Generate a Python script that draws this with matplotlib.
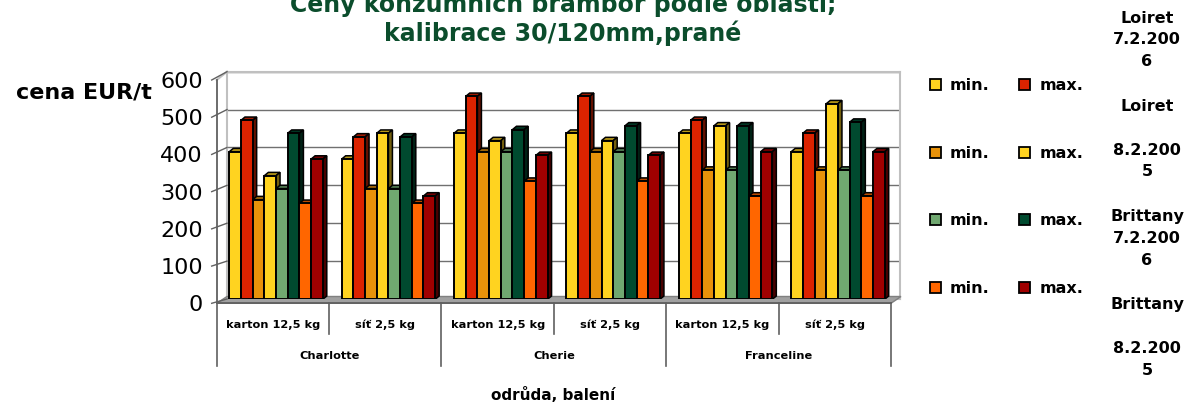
import matplotlib
matplotlib.use("Agg")
import matplotlib.pyplot as plt
from matplotlib.patches import Polygon
from matplotlib.transforms import blended_transform_factory
import numpy as np

# ---------------- data ----------------
title_lines = ["Ceny konzumních brambor podle oblastí;", "kalibrace 30/120mm,prané"]
y_title = "cena EUR/t"
x_title = "odrůda, balení"
varieties = ["Charlotte", "Cherie", "Franceline"]
packages = ["karton 12,5 kg", "síť 2,5 kg"]
yticks = [0, 100, 200, 300, 400, 500, 600]

series_labels = ["min.", "max.", "min.", "max.", "min.", "max.", "min.", "max."]
region_lines = [["Loiret", "7.2.200", "6"],
                ["Loiret", "", "8.2.200", "5"],
                ["Brittany", "7.2.200", "6"],
                ["Brittany", "", "8.2.200", "5"]]

# values per category (Charlotte karton, Charlotte sit, Cherie karton, Cherie sit, Franceline karton, Franceline sit)
loiret06_min = [400, 380, 450, 450, 450, 400]
loiret06_max = [485, 440, 550, 550, 485, 450]
loiret05_min = [270, 300, 400, 400, 350, 350]
loiret05_max = [335, 450, 430, 430, 470, 530]
britt06_min = [300, 300, 400, 400, 350, 350]
britt06_max = [450, 440, 460, 470, 470, 480]
britt05_min = [260, 260, 320, 320, 280, 280]
britt05_max = [380, 280, 390, 390, 400, 400]

series = [loiret06_min, loiret06_max, loiret05_min, loiret05_max,
          britt06_min, britt06_max, britt05_min, britt05_max]
colors = ["#FFD320", "#DC2300", "#E8920A", "#FFD320",
          "#70A870", "#004A2F", "#FF6600", "#A00000"]

# ---------------- figure ----------------
W, H = 1185, 403
fig = plt.figure(figsize=(W / 100, H / 100), dpi=100)
fig.patch.set_facecolor("white")


def fx(px):
    return px / W


def fy(py):
    return 1 - py / H


# back wall
axw = fig.add_axes([fx(227), fy(299), (900 - 227) / W, (299 - 71.7) / H], zorder=0)
axw.set_xlim(0, 1)
axw.set_ylim(0, 600)
axw.set_facecolor("white")
for s in axw.spines.values():
    s.set_color("#C0C0C0")
    s.set_linewidth(1.5)
axw.set_xticks([])
axw.set_yticks(yticks)
axw.tick_params(length=0, labelleft=False)
axw.grid(axis="y", color="#707070", linewidth=1.0)

# floor / left wall overlay
axb = fig.add_axes([0, 0, 1, 1], zorder=0.5)
axb.set_xlim(0, W)
axb.set_ylim(H, 0)
axb.axis("off")
axb.patch.set_alpha(0)
axb.add_patch(Polygon([(216.7, 303.3), (891, 303.3), (901, 296.5), (227, 296.5)],
                      closed=True, facecolor="#A0A0A0", edgecolor="#808080", linewidth=1))
axb.plot([216.7, 227], [80, 71.7], color="#C0C0C0", linewidth=1.5)

# main bar axes
ax = fig.add_axes([fx(216.7), fy(299.3), (891 - 216.7) / W, (299.3 - 77.9) / H], zorder=1)
ax.set_xlim(0, 6)
ax.set_ylim(0, 600)
ax.axis("off")
ax.patch.set_alpha(0)

ncat = len(varieties) * len(packages)
x = np.arange(ncat)
bw = 0.104
off = 0.112
ppx = (891 - 216.7) / 6.0           # px per x unit
ppy = (299.3 - 77.9) / 600.0        # px per y unit
ddx = 4.0 / ppx
ddy = 3.3 / ppy


def shade(c, f):
    rgb = np.array(matplotlib.colors.to_rgb(c))
    return tuple(rgb * f)


handles = []
for s, (vals, col) in enumerate(zip(series, colors)):
    xl = x + off + s * bw
    cont = ax.bar(xl, vals, width=bw, align="edge", color=col,
                  edgecolor="black", linewidth=1.4, label=series_labels[s])
    handles.append(cont)
    for c, (rect, v) in enumerate(zip(cont, vals)):
        z = 2 + c * 20 + s * 2
        rect.set_zorder(z + 1)
        x0 = xl[c]
        x1 = x0 + bw
        top = Polygon([(x0, v), (x1, v), (x1 + ddx, v + ddy), (x0 + ddx, v + ddy)],
                      closed=True, facecolor=shade(col, 0.72), edgecolor="black",
                      linewidth=1.1, zorder=z)
        side = Polygon([(x1, 0), (x1 + ddx, ddy), (x1 + ddx, v + ddy), (x1, v)],
                       closed=True, facecolor=shade(col, 0.45), edgecolor="black",
                       linewidth=1.1, zorder=z)
        ax.add_patch(top)
        ax.add_patch(side)

# front value axis
ax_y = fig.add_axes([fx(216.7), fy(303.3), 0.0001, (303.3 - 80) / H], zorder=2)
ax_y.set_ylim(0, 600)
ax_y.set_xlim(0, 1)
ax_y.patch.set_alpha(0)
for k, s in ax_y.spines.items():
    s.set_visible(k == "left")
ax_y.spines["left"].set_color("#606060")
ax_y.spines["left"].set_linewidth(1.3)
ax_y.set_xticks([])
ax_y.set_yticks(yticks)
ax_y.set_yticklabels([str(v) for v in yticks], fontsize=16)
ax_y.tick_params(axis="y", length=0, pad=10)

# foreground overlay
axf = fig.add_axes([0, 0, 1, 1], zorder=3)
axf.set_xlim(0, W)
axf.set_ylim(H, 0)
axf.axis("off")
axf.patch.set_alpha(0)

# diagonal ticks from front axis to back wall
fig.canvas.draw()
inv = axf.transData.inverted()
for v in yticks:
    p_front = inv.transform(ax_y.transData.transform((0, v)))
    p_back = inv.transform(axw.transData.transform((0, v)))
    axf.plot([p_front[0] - 5, p_back[0]], [p_front[1], p_back[1]],
             color="#606060", linewidth=1.0)

# category axis
tr = blended_transform_factory(ax.transData, axf.transData)
axf.plot([0, 6], [303.3, 303.3], color="#606060", linewidth=1.3, transform=tr)
for k in range(ncat + 1):
    ybot = 366 if k % 2 == 0 else 334
    axf.plot([k, k], [303.3, ybot], color="#606060", linewidth=1.2, transform=tr)
for c in range(ncat):
    axf.text(c + 0.5, 325, packages[c % 2], transform=tr, ha="center", va="center",
             fontsize=8.2, fontweight="bold")
for g, name in enumerate(varieties):
    axf.text(2 * g + 1, 356, name, transform=tr, ha="center", va="center",
             fontsize=8.2, fontweight="bold")

# titles
tcol = "#0B4D2C"
axf.text(563, 12, title_lines[0], ha="center", va="baseline", fontsize=17,
         fontweight="bold", color=tcol)
axf.text(563, 41, title_lines[1], ha="center", va="baseline", fontsize=17,
         fontweight="bold", color=tcol)
axf.text(84, 92, y_title, ha="center", va="center", fontsize=16, fontweight="bold")
axf.text(553, 395, x_title, ha="center", va="center", fontsize=11, fontweight="bold")

# legend
order = [0, 2, 4, 6, 1, 3, 5, 7]
leg = fig.legend([handles[i] for i in order], [series_labels[i] for i in order],
                 ncol=2, loc="upper left", bbox_to_anchor=(fx(930), fy(78)),
                 frameon=False, prop={"weight": "bold", "size": 11.5},
                 handlelength=0.7, handleheight=0.7, handletextpad=0.55,
                 columnspacing=1.85, labelspacing=3.3, borderpad=0, borderaxespad=0)
for h in leg.legend_handles:
    h.set_linewidth(1.3)

# region labels on the right
starts = [18.3, 106.7, 216.7, 305]
step = 21.7
for y0, lines in zip(starts, region_lines):
    for i, t in enumerate(lines):
        if t:
            axf.text(1147, y0 + i * step, t, ha="center", va="center",
                     fontsize=11.5, fontweight="bold")

fig.savefig("out.png", dpi=100)
